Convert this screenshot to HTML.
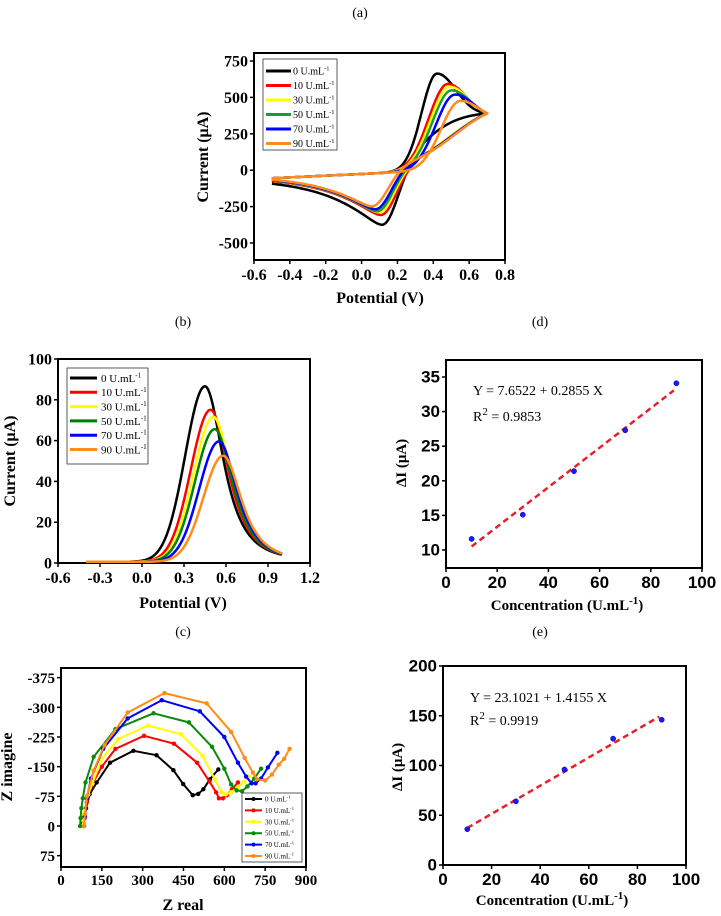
<!DOCTYPE html>
<html><head><meta charset="utf-8"><style>
html,body{margin:0;padding:0;background:#fff;}
svg{display:block;}
text{font-family:"Liberation Serif",serif;}
.sans{font-family:"Liberation Sans",sans-serif;}
</style></head><body>
<svg id="fig" width="721" height="916" viewBox="0 0 721 916" xmlns="http://www.w3.org/2000/svg">
<text x="360" y="17" font-size="14" text-anchor="middle">(a)</text>
<text x="183" y="326" font-size="14" text-anchor="middle">(b)</text>
<text x="540" y="326" font-size="14" text-anchor="middle">(d)</text>
<text x="183" y="636" font-size="14" text-anchor="middle">(c)</text>
<text x="540" y="636" font-size="14" text-anchor="middle">(e)</text>
</svg>
<script>
// ---------- data ----------
const legendLabels = ["0 U.mL","10 U.mL","30 U.mL","50 U.mL","70 U.mL","90 U.mL"];
const seriesColors = ["#000000","#ff0000","#ffff00","#1f9a3a","#0000ff","#ff8c1a"];
const nyqColors = ["#000000","#ff0000","#ffff00","#0a8a0a","#0000ff","#ff8c1a"];
const dpvColors = ["#000000","#ff0000","#ffff00","#008000","#0000ff","#ff8c1a"];
// CV (a)
const cvEpa = [0.42,0.48,0.49,0.50,0.52,0.55];
const cvIpa = [665,590,570,545,515,470];
const cvEpc = [0.12,0.11,0.10,0.09,0.08,0.06];
const cvIpc = [410,330,310,300,285,262];
const cvEm  = [0.35,0.50,0.50,0.51,0.51,0.52];
const cvSwitch = 390;
// DPV (b)
const dpvEp = [0.45,0.49,0.51,0.52,0.55,0.58];
const dpvH  = [86,74.5,71,65,59,52];
// Nyquist (c)
const nyqBlack = [[80,0],[82,-7],[86,-25],[92,-45],[105,-80],[131,-110],[180,-160],[266,-190],[351,-179],[413,-141],[449,-106],[484,-78],[504,-81],[523,-93],[547,-118],[578,-143]];
const nyqRed = [[85,0],[87,-20],[95,-60],[110,-100],[150,-150],[200,-195],[305,-228],[415,-208],[500,-160],[545,-113],[570,-85],[580,-70],[595,-70],[610,-78],[628,-93],[650,-110]];
const nyqYellow = [[80,0],[85,-30],[100,-80],[150,-170],[210,-220],[320,-254],[440,-232],[520,-178],[565,-118],[590,-85],[605,-80],[625,-85],[650,-98],[670,-110],[690,-125]];
const nyqGreen = [[70,0],[72,-20],[75,-45],[80,-70],[90,-110],[120,-175],[200,-245],[340,-285],[470,-262],[555,-200],[600,-145],[625,-105],[645,-90],[665,-88],[685,-100],[710,-120],[735,-145]];
const nyqBlue = [[85,0],[88,-25],[95,-70],[110,-120],[155,-195],[245,-272],[370,-318],[510,-290],[600,-225],[650,-160],[680,-125],[700,-108],[715,-108],[735,-120],[760,-148],[795,-185]];
const nyqOrange = [[85,0],[88,-30],[95,-75],[120,-140],[160,-205],[245,-287],[380,-336],[535,-310],[625,-238],[675,-172],[705,-135],[720,-118],[750,-115],[775,-130],[800,-155],[820,-170],[840,-195]];
const nyqSeries = [nyqBlack,nyqRed,nyqYellow,nyqGreen,nyqBlue,nyqOrange];
// calibration (d), (e)
const concX = [10,30,50,70,90];
const dI_d = [11.6,15.1,21.4,27.3,34.1];
const dI_e = [36,64,96,127,146];
const fitD = [7.6522,0.2855];
const fitE = [23.1021,1.4155];
// ticks
const ticksAx = [-0.6,-0.4,-0.2,0.0,0.2,0.4,0.6,0.8];
const ticksAy = [-500,-250,0,250,500,750];
const ticksBx = [-0.6,-0.3,0.0,0.3,0.6,0.9,1.2];
const ticksBy = [0,20,40,60,80,100];
const ticksCx = [0,150,300,450,600,750,900];
const ticksCy = [-375,-300,-225,-150,-75,0,75];
const ticksDx = [0,20,40,60,80,100];
const ticksDy = [10,15,20,25,30,35];
const ticksEy = [0,50,100,150,200];

// ---------- helpers ----------
const NS="http://www.w3.org/2000/svg";
const svg=document.getElementById('fig');
function mk(tag,parent){const e=document.createElementNS(NS,tag);parent.appendChild(e);return e;}
function set(e,o){for(const k in o)e.setAttribute(k,o[k]);return e;}

function axes(g,fr,xs,ys,xt,yt,xfmt,yfmt,opt){
  const r=mk('rect',g);
  set(r,{x:fr[0],y:fr[1],width:fr[2]-fr[0],height:fr[3]-fr[1],fill:'none',stroke:'#000','stroke-width':2});
  
  
  xt.forEach(v=>{
    const x=xs(v);
    const t=mk('line',g);set(t,{x1:x,x2:x,y1:fr[3],y2:fr[3]+4,stroke:'#000','stroke-width':1.5});
    
    
    const l=mk('text',g);set(l,{x:x,y:fr[3]+opt.xly,'font-size':opt.fs,'font-weight':'bold','text-anchor':'middle'});
    if(opt.sans)l.setAttribute('class','sans');
    l.textContent=xfmt(v);
    
    
  });
  yt.forEach(v=>{
    const y=ys(v);
    const t=mk('line',g);set(t,{x1:fr[0]-4,x2:fr[0],y1:y,y2:y,stroke:'#000','stroke-width':1.5});
    
    
    const l=mk('text',g);set(l,{x:fr[0]-6,y:y+5.5,'font-size':opt.fs,'font-weight':'bold','text-anchor':'end'});
    if(opt.sans)l.setAttribute('class','sans');
    l.textContent=yfmt(v);
    
    
  });
}
function title(g,x,y,txt,rot,fs,name){
  const t=mk('text',g);
  set(t,{x:x,y:y,'font-size':fs,'font-weight':'bold','text-anchor':'middle'});
  if(rot)t.setAttribute('transform','rotate(-90 '+x+' '+y+')');
  t.innerHTML=txt;
  
  
  return t;
}
function path(g,pts,color,w,name){
  const p=mk('path',g);
  set(p,{d:'M'+pts.map(q=>q[0].toFixed(1)+','+q[1].toFixed(1)).join('L'),fill:'none',stroke:color,'stroke-width':w,'stroke-linejoin':'round'});
  
  
  return p;
}
function legend(g,box,y0,dy,lx1,lx2,tx,fs,colors,markers){
  const r=mk('rect',g);
  set(r,{x:box[0],y:box[1],width:box[2],height:box[3],fill:'#fff',stroke:'#333','stroke-width':0.8});
  
  
  legendLabels.forEach((lab,i)=>{
    const y=y0+dy*i;
    const l=mk('line',g);set(l,{x1:lx1,x2:lx2,y1:y,y2:y,stroke:colors[i],'stroke-width':markers?2:3});
    
    
    if(markers){const c=mk('circle',g);set(c,{cx:(lx1+lx2)/2,cy:y,r:2,fill:colors[i]});
      
      }
    const t=mk('text',g);set(t,{x:tx,y:y+fs*0.35,'font-size':fs});
    t.innerHTML=lab+'<tspan font-size="'+(fs*0.65)+'" dy="-'+(fs*0.4)+'">-1</tspan>';
    
    
  });
}

// ---------- (a) CV ----------
(function(){
  const g=mk('g',svg);
  
  
  const fr=[254,53,505,260];
  const xs=v=>254+(v+0.6)/1.4*251, ys=v=>61+(750-v)*(182/1250);
  axes(g,fr,xs,ys,ticksAx,ticksAy,v=>v.toFixed(1),v=>String(v),{fs:16,xly:20});
  title(g,208,157,'Current (μA)',true,16,'y-axis-title');
  title(g,380,303,'Potential (V)',false,16,'x-axis-title');
  for(let i=0;i<6;i++){
    const s=i===0?0.1:0.13;
    const sig=E=>1/(1+Math.exp(-(E-cvEm[i])/s));
    const base=E=>-55+58*(E+0.5);
    const wl=i===0?0.12:0.15;
    const e7=Math.exp(-Math.pow((0.7-cvEpa[i])/0.15,2));
    const tail=((cvSwitch-base(0.7))/cvIpa[i]-e7)/(1-e7);
    const F=E=>{const d=E-cvEpa[i];return base(E)+cvIpa[i]*(d<0?Math.exp(-(d/wl)*(d/wl)):tail+(1-tail)*Math.exp(-(d/0.15)*(d/0.15)));};
    const S=E=>cvSwitch*sig(E)/sig(0.7);
    const R=E=>{const d=cvEpc[i]-E;let c;
      if(d<0)c=Math.exp(-(d/0.12)*(d/0.12));
      else c=0.14+0.86*Math.exp(-d*d/(0.25*(d+0.05)));
      return S(E)-cvIpc[i]*c;};
    const pts=[];
    for(let E=-0.5;E<=0.7001;E+=0.005)pts.push([xs(E),ys(F(E))]);
    for(let E=0.7;E>=-0.5001;E-=0.005)pts.push([xs(E),ys(R(E))]);
    path(g,pts,seriesColors[i],2.5,'cv-curve-'+i);
  }
  legend(g,[263,59,74,91],71,14.5,266,291,293,10,seriesColors,false);
})();

// ---------- (b) DPV ----------
(function(){
  const g=mk('g',svg);
  
  
  const fr=[58,359,310,563];
  const xs=v=>58+(v+0.6)/1.8*252, ys=v=>563-v*2.04;
  axes(g,fr,xs,ys,ticksBx,ticksBy,v=>v.toFixed(1),v=>String(v),{fs:16,xly:20});
  title(g,15,461,'Current (μA)',true,16,'y-axis-title');
  title(g,183,608,'Potential (V)',false,16,'x-axis-title');
  for(let i=0;i<6;i++){
    const pts=[];
    for(let E=-0.4;E<=1.0001;E+=0.005){
      const d=E-dpvEp[i];
      const v=d<0?dpvH[i]*Math.exp(-(d/0.2)*(d/0.2)):dpvH[i]/Math.pow(1+(d/0.2)*(d/0.2),1.5);
      pts.push([xs(E),ys(0.6+v)]);
    }
    path(g,pts,dpvColors[i],2.5,'dpv-curve-'+i);
  }
  legend(g,[67,368,81,96],378,14.3,70,97,101,11,dpvColors,false);
})();

// ---------- (c) Nyquist ----------
(function(){
  const g=mk('g',svg);
  
  
  const fr=[61,668,306,867];
  const xs=v=>61+v*0.2722, ys=v=>826+v*0.3956;
  axes(g,fr,xs,ys,ticksCx,ticksCy,v=>String(v),v=>String(v),{fs:15,xly:18});
  title(g,12,767,'Z imagine',true,16,'y-axis-title');
  title(g,183,910,'Z real',false,16,'x-axis-title');
  nyqSeries.forEach((s,i)=>{
    path(g,s.map(p=>[xs(p[0]),ys(p[1])]),nyqColors[i],2,'nyquist-line-'+i);
    s.forEach(p=>{const c=mk('circle',g);set(c,{cx:xs(p[0]),cy:ys(p[1]),r:2.2,fill:nyqColors[i]});
      
      });
  });
  legend(g,[242,793,60,69],799,11.4,245,262,265,7,nyqColors,true);
})();

// ---------- (d) & (e) calibration ----------
function calib(fr,xs,ys,yt,ydata,fit,name,ylx,yly,xlx,xly,eqy){
  const g=mk('g',svg);
  
  
  axes(g,fr,xs,ys,ticksDx,yt,v=>String(v),v=>String(v),{fs:17,xly:20,sans:true});
  title(g,ylx,yly,'ΔI (μA)',true,15,'y-axis-title');
  title(g,xlx,xly,'Concentration (U.mL<tspan font-size="11" dy="-6">-1</tspan><tspan dy="6">)</tspan>',false,15,'x-axis-title');
  const x1=concX[0], x2=concX[concX.length-1]-1;
  const l=mk('line',g);
  set(l,{x1:xs(x1),y1:ys(fit[0]+fit[1]*x1),x2:xs(x2),y2:ys(fit[0]+fit[1]*x2),stroke:'#e8202a','stroke-width':2.5,'stroke-dasharray':'6,4'});
  
  
  concX.forEach((c,i)=>{const p=mk('circle',g);set(p,{cx:xs(c),cy:ys(ydata[i]),r:2.6,fill:'#1a1aff',stroke:'#00008b','stroke-width':0.5});
    
    });
  const e1=mk('text',g);set(e1,{x:fr[0]+27,y:eqy,'font-size':14});
  e1.textContent='Y = '+fit[0].toFixed(4)+' + '+fit[1].toFixed(4)+' X';
  
  
  return g;
}
const gd=calib([446,360,702,568],v=>446+v*2.56,v=>550-(v-10)*6.92,ticksDy,dI_d,fitD,'calibration-chart-d',406,463,567,610,395);
const r2d=mk('text',gd);set(r2d,{x:473,y:421,'font-size':14});
r2d.innerHTML='R<tspan font-size="11" dy="-6">2</tspan><tspan dy="6"> = 0.9853</tspan>';


const ge=calib([443,666,686,865],v=>443+v*2.43,v=>865-v*0.995,ticksEy,dI_e,fitE,'calibration-chart-e',402,767,552,905,702);
const r2e=mk('text',ge);set(r2e,{x:470,y:725,'font-size':14});
r2e.innerHTML='R<tspan font-size="11" dy="-6">2</tspan><tspan dy="6"> = 0.9919</tspan>';


</script>
</body></html>
